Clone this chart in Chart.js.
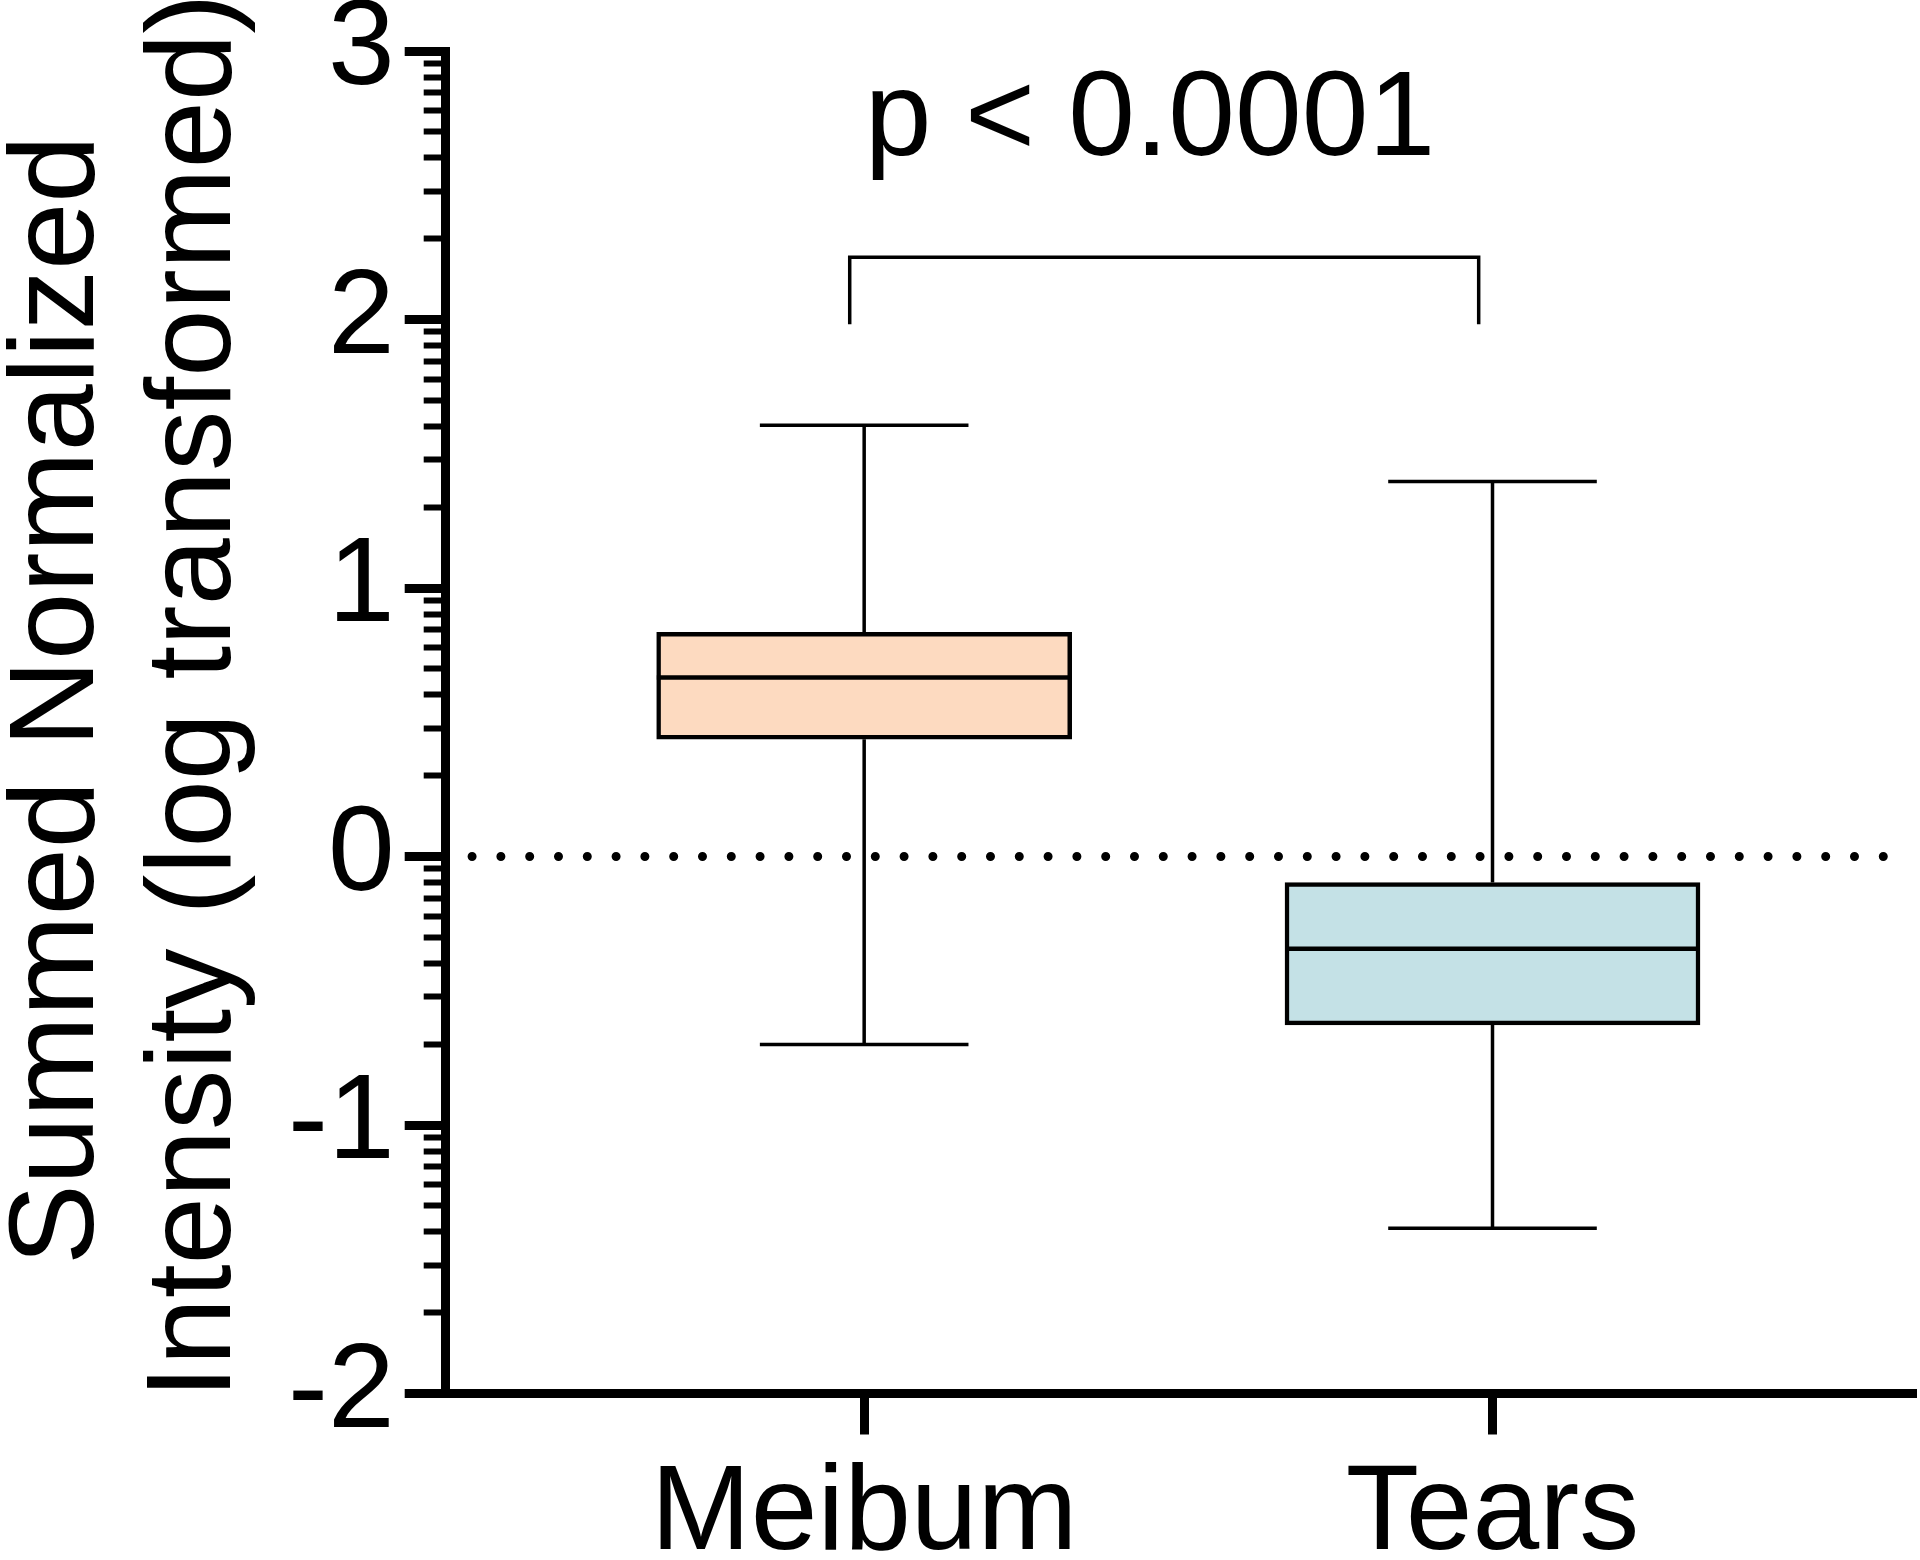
<!DOCTYPE html>
<html>
<head>
<meta charset="utf-8">
<title>Summed Normalized Intensity</title>
<script src="https://cdn.jsdelivr.net/npm/chart.js@4.4.1/dist/chart.umd.min.js"></script>
<style>
  html, body { margin: 0; padding: 0; background: #fff; }
  #wrap { width: 1920px; height: 1560px; }
</style>
</head>
<body>
<div id="wrap"><canvas id="boxChart" width="1920" height="1560"></canvas></div>
<script>
// box plot values (log transformed)
const categories = ["Meibum", "Tears"];
const whiskerMin = [-0.70, -1.385];
const q1 = [0.437, -0.627];
const median = [0.667, -0.344];
const q3 = [0.835, -0.097];
const whiskerMax = [1.606, 1.397];
const boxColors = ["#fddac0", "#c4e1e6"];

const yMajorTicks = [-2, -1, 0, 1, 2, 3];
const yTickLabels = ["-2", "-1", "0", "1", "2", "3"];
const yTitleLines = ["Summed Normalized", "Intensity (log transformed)"];

const pValueText = "p < 0.0001";
const bracketLow = 1.982;
const bracketHigh = 2.232;

const FONT = "'Liberation Sans', Arial, sans-serif";
const BOX_HALF = 0.330;   // half box width in x units
const CAP_HALF = 0.166;   // half whisker cap width

// minor ticks like a log axis inside every decade
const yMinorTicks = [];
for (let n = -2; n < 3; n++) {
  for (let k = 2; k <= 9; k++) yMinorTicks.push(n + Math.log10(k));
}

function seg(points, width, extra) {
  return Object.assign({
    type: "line",
    data: points,
    borderColor: "#000",
    borderWidth: width,
    pointRadius: 0,
    fill: false,
    tension: 0,
    order: 1,
  }, extra || {});
}

const datasets = [{
  type: "bar",
  data: categories.map((c, i) => ({ x: i + 1, y: [q1[i], q3[i]] })),
  backgroundColor: boxColors,
  borderColor: "#000",
  borderWidth: 4.5,
  borderSkipped: false,
  barThickness: 415,
  order: 2,
}];

categories.forEach((c, i) => {
  const x = i + 1;
  datasets.push(seg([{ x, y: q3[i] }, { x, y: whiskerMax[i] }], 3.5));
  datasets.push(seg([{ x, y: q1[i] }, { x, y: whiskerMin[i] }], 3.5));
  datasets.push(seg([{ x: x - CAP_HALF, y: whiskerMax[i] }, { x: x + CAP_HALF, y: whiskerMax[i] }], 3.5));
  datasets.push(seg([{ x: x - CAP_HALF, y: whiskerMin[i] }, { x: x + CAP_HALF, y: whiskerMin[i] }], 3.5));
  datasets.push(seg([{ x: x - BOX_HALF, y: median[i] }, { x: x + BOX_HALF, y: median[i] }], 4.5));
});

// dotted zero line
datasets.push(seg([{ x: 0.376, y: 0 }, { x: 2.643, y: 0 }], 9, {
  borderDash: [0, 28.8],
  borderCapStyle: "round",
}));

// significance bracket
datasets.push(seg([
  { x: 0.977, y: bracketLow },
  { x: 0.977, y: bracketHigh },
  { x: 1.978, y: bracketHigh },
  { x: 1.978, y: bracketLow },
], 3.5, { borderJoinStyle: "miter" }));

const textPlugin = {
  id: "texts",
  afterDraw(chart) {
    const { ctx, scales, chartArea } = chart;
    ctx.save();
    ctx.fillStyle = "#000";
    ctx.textAlign = "center";
    ctx.textBaseline = "alphabetic";

    // p value above the bracket
    ctx.font = `120px ${FONT}`;
    ctx.fillText(pValueText, scales.x.getPixelForValue(1.455), scales.y.getPixelForValue(2.613));

    // rotated y axis title, two lines
    ctx.font = `121px ${FONT}`;
    const midY = (chartArea.top + chartArea.bottom) / 2;
    const baseX = [chartArea.left - 353, chartArea.left - 216];
    const shiftY = [-22, -26];
    yTitleLines.forEach((line, i) => {
      ctx.save();
      ctx.translate(baseX[i], midY + shiftY[i]);
      ctx.rotate(-Math.PI / 2);
      ctx.fillText(line, 0, 0);
      ctx.restore();
    });
    ctx.restore();
  },
};

new Chart(document.getElementById("boxChart"), {
  data: { datasets },
  plugins: [textPlugin],
  options: {
    responsive: false,
    animation: false,
    devicePixelRatio: 1,
    layout: { padding: { top: 51, right: 4, bottom: -37.5, left: 278 } },
    plugins: { legend: { display: false }, tooltip: { enabled: false } },
    scales: {
      x: {
        type: "linear",
        min: 0.334,
        max: 2.674,
        offset: false,
        afterBuildTicks: (scale) => {
          scale.ticks = categories.map((c, i) => ({ value: i + 1 }));
        },
        grid: {
          offset: false,
          drawOnChartArea: false,
          tickLength: 41,
          tickWidth: 9,
          tickColor: "#000",
        },
        border: { display: true, color: "#000", width: 9 },
        ticks: {
          autoSkip: false,
          maxRotation: 0,
          padding: 39.5,
          color: "#000",
          font: { family: FONT, size: 120, lineHeight: 0.7 },
          callback: (value) => categories[Math.round(value) - 1] || "",
        },
      },
      y: {
        type: "linear",
        min: -2,
        max: 3,
        afterBuildTicks: (scale) => {
          const t = yMajorTicks.map((v) => ({ value: v, major: true }))
            .concat(yMinorTicks.map((v) => ({ value: v, major: false })));
          t.sort((a, b) => a.value - b.value);
          scale.ticks = t;
        },
        grid: {
          drawOnChartArea: false,
          tickLength: 41,
          tickColor: "#000",
          tickWidth: (ctx) => (ctx.tick && ctx.tick.major ? 9 : 6),
          tickBorderDash: (ctx) => (ctx.tick && ctx.tick.major ? [] : [0, 19, 18, 200]),
        },
        border: { display: true, color: "#000", width: 9 },
        ticks: {
          autoSkip: false,
          padding: 10,
          color: "#000",
          font: { family: FONT, size: 120, lineHeight: 0.6 },
          callback: (value) => {
            const idx = yMajorTicks.findIndex((m) => Math.abs(m - value) < 1e-6);
            return idx >= 0 ? yTickLabels[idx] : "";
          },
        },
      },
    },
  },
});
</script>
</body>
</html>
